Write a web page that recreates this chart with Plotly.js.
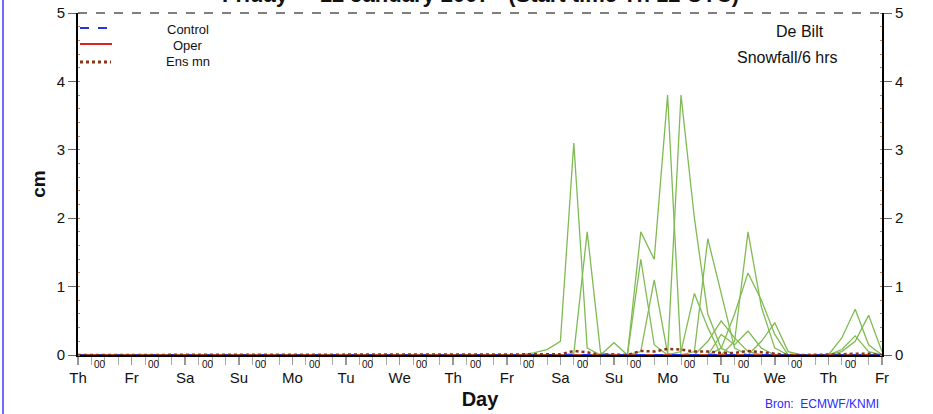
<!DOCTYPE html>
<html><head><meta charset="utf-8">
<script src="https://cdn.plot.ly/plotly-3.0.1.min.js"></script>
<style>html,body{margin:0;padding:0;background:#fff}#chart{width:933px;height:414px}</style>
</head><body><div id="chart"></div>
<script>
// ---- data ----
const dayLabels = ['Th','Fr','Sa','Su','Mo','Tu','We','Th','Fr','Sa','Su','Mo','Tu','We','Th','Fr'];
const stepHours = 6;
const nSteps = 61;            // 0..360 h, 6-hourly
const windowStart = 32;       // member arrays below start at this 6-h step (all earlier steps are 0 cm)
// ensemble members with snow (cm / 6 h), from step 32 on
const memA = [0,0,0.03,0.08,0.2,3.1,0.1];
const memB = [0,0,0,0,0,0.02,1.8,0.03];
const memP = [0,0,0,0,0,0,0,0,0.18];
const memC = [0,0,0,0,0,0,0,0,0,0,1.8,1.4,3.8];
const memJ = [0,0,0,0,0,0,0,0,0,0,1.4,0.15];
const memE = [0,0,0,0,0,0,0,0,0,0,0.05,1.1,0.02];
const memD = [0,0,0,0,0,0,0,0,0,0,0,0,0,3.8,2.0,0.6,0.1];
const memK = [0,0,0,0,0,0,0,0,0,0,0,0,0,0.05,0.9,0.4];
const memF = [0,0,0,0,0,0,0,0,0,0,0,0,0,0,0.05,1.7,0.9,0.1];
const memQ = [0,0,0,0,0,0,0,0,0,0,0,0,0,0,0,0.2,0.5,0.25,0.05];
const memG = [0,0,0,0,0,0,0,0,0,0,0,0,0,0,0,0,0,0.2,1.8,0.7,0.1];
const memH = [0,0,0,0,0,0,0,0,0,0,0,0,0,0,0,0,0.1,0.6,1.2,0.8,0.3];
const memS = [0,0,0,0,0,0,0,0,0,0,0,0,0,0,0,0,0.3,0.15,0.35,0.1];
const memI = [0,0,0,0,0,0,0,0,0,0,0,0,0,0,0,0,0,0,0,0.2,0.47,0.05];
const memL = [0,0,0,0,0,0,0,0,0,0,0,0,0,0,0,0,0,0,0,0,0,0,0,0,0,0.25,0.67,0.15];
const memM = [0,0,0,0,0,0,0,0,0,0,0,0,0,0,0,0,0,0,0,0,0,0,0,0,0,0.05,0.2,0.58,0.05];
const memN = [0,0,0,0,0,0,0,0,0,0,0,0,0,0,0,0,0,0,0,0,0,0,0,0,0,0.08,0.28,0.05];
const members = [memA,memB,memP,memC,memJ,memE,memD,memK,memF,memQ,memG,memH,memS,memI,memL,memM,memN];
const controlRun = [0];
const operRun = [0];
const ensMean = [0,0,0,0,0.01,0.06,0.04,0,0.01,0,0.06,0.05,0.09,0.08,0.05,0.05,0.03,0.03,0.06,0.04,0.02,0,0,0,0,0.01,0.02,0.02,0];

// ---- build ----
const hours = [];
for (let i = 0; i < nSteps; i++) hours.push(i * stepHours);
function full(win) { // place window values on the full time axis, zeros elsewhere
  const out = new Array(nSteps).fill(0);
  win.forEach((v, k) => { if (windowStart + k < nSteps) out[windowStart + k] = v; });
  return out;
}
const traces = [];
members.forEach(m => traces.push({x: hours, y: full(m), type: 'scatter', mode: 'lines',
  line: {color: '#7fbb52', width: 1.3}, hoverinfo: 'skip'}));
traces.push({x: hours, y: full(operRun), mode: 'lines', line: {color: '#e02020', width: 1.5}});
traces.push({x: hours, y: full(controlRun), mode: 'lines', line: {color: '#2233ee', width: 2, dash: 'dash'}});
traces.push({x: hours, y: full(ensMean), yaxis: 'y2', mode: 'lines', line: {color: '#8a3515', width: 2.5, dash: 'dot'}});

const dayTicks = dayLabels.map((_, d) => d * 24);
const W = 804, H = 342, L = 78, T = 13;
const px = x => (x - L) / W, py = y => (T + H - y) / H;

const annotations = [];
annotations.push({xref: 'paper', yref: 'paper', x: 0.5, y: py(9), xanchor: 'center', yanchor: 'bottom', showarrow: false,
  text: '<b>Friday  -  12 January 2007   (Start time Th 12 UTC)</b>', font: {size: 22, color: '#111'}});
for (let d = 0; d < dayLabels.length - 1; d++) {
  annotations.push({xref: 'x', yref: 'paper', x: d * 24 + 10, y: py(364), xanchor: 'center', yanchor: 'middle',
    showarrow: false, text: '00', font: {size: 10, color: '#111'}});
}
const note = (x, y, text, size, color, xa) => annotations.push({xref: 'paper', yref: 'paper', x: px(x), y: py(y),
  xanchor: xa || 'center', yanchor: 'middle', showarrow: false, text: text, font: {size: size, color: color}});
note(800, 31, 'De Bilt', 16, '#111');
note(787, 57, 'Snowfall/6 hrs', 16, '#111');
note(188, 30, 'Control', 13, '#111');
note(188, 45, 'Oper', 13, '#111');
note(188, 62, 'Ens mn', 13, '#111');
note(881, 404, 'Bron:  ECMWF/KNMI', 12, '#2a2aff', 'right');

const shapes = [
  {type: 'line', xref: 'paper', yref: 'paper', x0: 0, x1: 1, y0: 1, y1: 1, line: {color: '#555', width: 1.5, dash: 'dash'}},
  {type: 'line', xref: 'paper', yref: 'paper', x0: px(80), x1: px(111), y0: py(28), y1: py(28), line: {color: '#2233ee', width: 2, dash: 'dash'}},
  {type: 'line', xref: 'paper', yref: 'paper', x0: px(80), x1: px(112), y0: py(44), y1: py(44), line: {color: '#e02020', width: 2}},
  {type: 'line', xref: 'paper', yref: 'paper', x0: px(80), x1: px(111), y0: py(62), y1: py(62), line: {color: '#8a3515', width: 3, dash: 'dot'}},
  {type: 'line', xref: 'paper', yref: 'paper', x0: px(3), x1: px(3), y0: py(414), y1: py(0), line: {color: '#6b6bff', width: 2}}
];

const yCommon = {range: [0, 5], dtick: 1, ticks: 'outside', ticklen: 8, tickcolor: '#666', showline: true,
  linecolor: '#000', linewidth: 2, showgrid: false, zeroline: false, tickfont: {size: 15, color: '#111'},
  minor: {dtick: 0.2, ticks: 'inside', ticklen: 2, tickcolor: '#d08040'}, fixedrange: true};

const layout = {
  width: 933, height: 414, margin: {l: L, r: 933 - L - W, t: T, b: 414 - T - H},
  paper_bgcolor: '#fff', plot_bgcolor: '#fff', showlegend: false,
  font: {family: 'Liberation Sans, Arial, sans-serif', color: '#111'},
  xaxis: {range: [0, 360], tickmode: 'array', tickvals: dayTicks, ticktext: dayLabels, ticks: 'outside', ticklen: 8,
    tickcolor: '#999', tickwidth: 1.5, showline: true, linecolor: '#000', linewidth: 2, layer: 'below traces',
    showgrid: false, zeroline: false, tickfont: {size: 15, color: '#111'},
    minor: {dtick: 6, tick0: 0, ticks: 'outside', ticklen: 8, tickcolor: '#aaa', tickwidth: 1},
    title: {text: '<b>Day</b>', font: {size: 20, color: '#111'}, standoff: 7}},
  yaxis: Object.assign({}, yCommon, {title: {text: '<b>cm</b>', font: {size: 19, color: '#111'}, standoff: 6}}),
  yaxis2: Object.assign({}, yCommon, {overlaying: 'y', side: 'right', anchor: 'x'}),
  annotations: annotations, shapes: shapes
};
Plotly.newPlot('chart', traces, layout, {staticPlot: true, displayModeBar: false});
</script></body></html>
